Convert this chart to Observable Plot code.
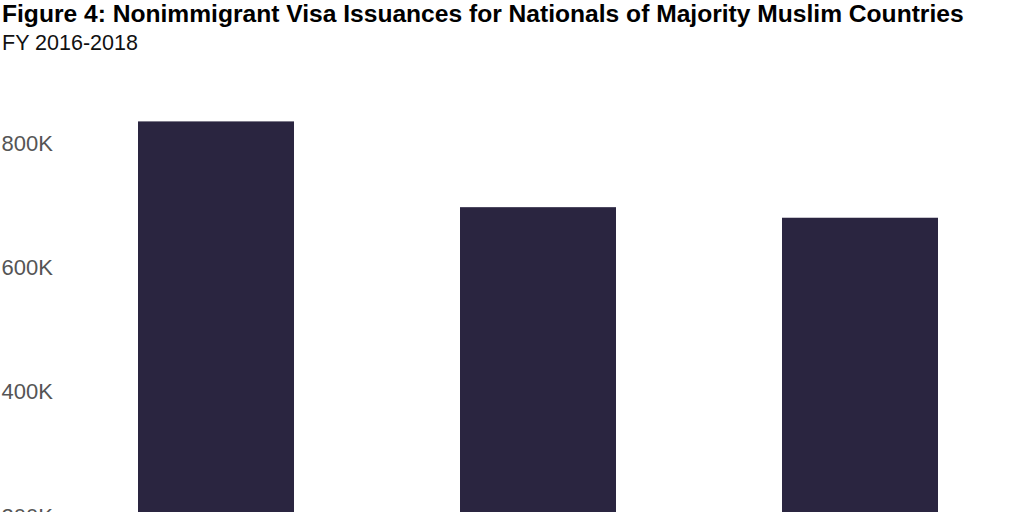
<!DOCTYPE html>
<html>
<head>
<meta charset="utf-8">
<script src="https://cdn.jsdelivr.net/npm/d3@7"></script>
<script src="https://cdn.jsdelivr.net/npm/@observablehq/plot@0.6"></script>
<style>
  html, body { margin: 0; padding: 0; background: #fff; overflow: hidden; }
  #title { font-family: "Liberation Sans Narrow", "Liberation Sans", sans-serif; font-weight: bold; font-size: 24.6px; line-height: 28px; color: #000; margin: 0 0 0 2px; white-space: nowrap; }
  #subtitle { font-family: "Liberation Sans", sans-serif; font-size: 21.5px; line-height: 26px; color: #111; margin: 2px 0 0 2px; }
  #chart svg { display: block; }
</style>
</head>
<body>
<div id="title">Figure 4: Nonimmigrant Visa Issuances for Nationals of Majority Muslim Countries</div>
<div id="subtitle">FY 2016-2018</div>
<div id="chart"></div>
<script>
const years = ["FY 2016", "FY 2017", "FY 2018"];
const issuances = [835000, 697000, 680000];
const yTicks = [0, 200000, 400000, 600000, 800000];

const data = years.map((year, i) => ({year, value: issuances[i]}));

const chart = Plot.plot({
  width: 1024,
  height: 618.4,
  marginTop: 25,
  marginBottom: 34,
  marginLeft: 60,
  marginRight: 8,
  style: {fontFamily: "Liberation Sans, sans-serif", fontSize: "22px", color: "#555", background: "#fff"},
  x: {type: "band", domain: years, range: [60, 1016], paddingInner: 0.5165, paddingOuter: 0.2422, label: null},
  y: {domain: [0, 900000], label: null},
  marks: [
    Plot.barY(data, {x: "year", y: "value", fill: "#2a2540"}),
    Plot.axisY({ticks: yTicks, tickSize: 0, tickPadding: 59, textAnchor: "start", tickFormat: d => d === 0 ? "0" : (d / 1000) + "K", fill: "#555", fontSize: 22}),
    Plot.axisX({tickSize: 0, fontSize: 22, fill: "#555"})
  ]
});
document.getElementById("chart").appendChild(chart);
</script>
</body>
</html>
